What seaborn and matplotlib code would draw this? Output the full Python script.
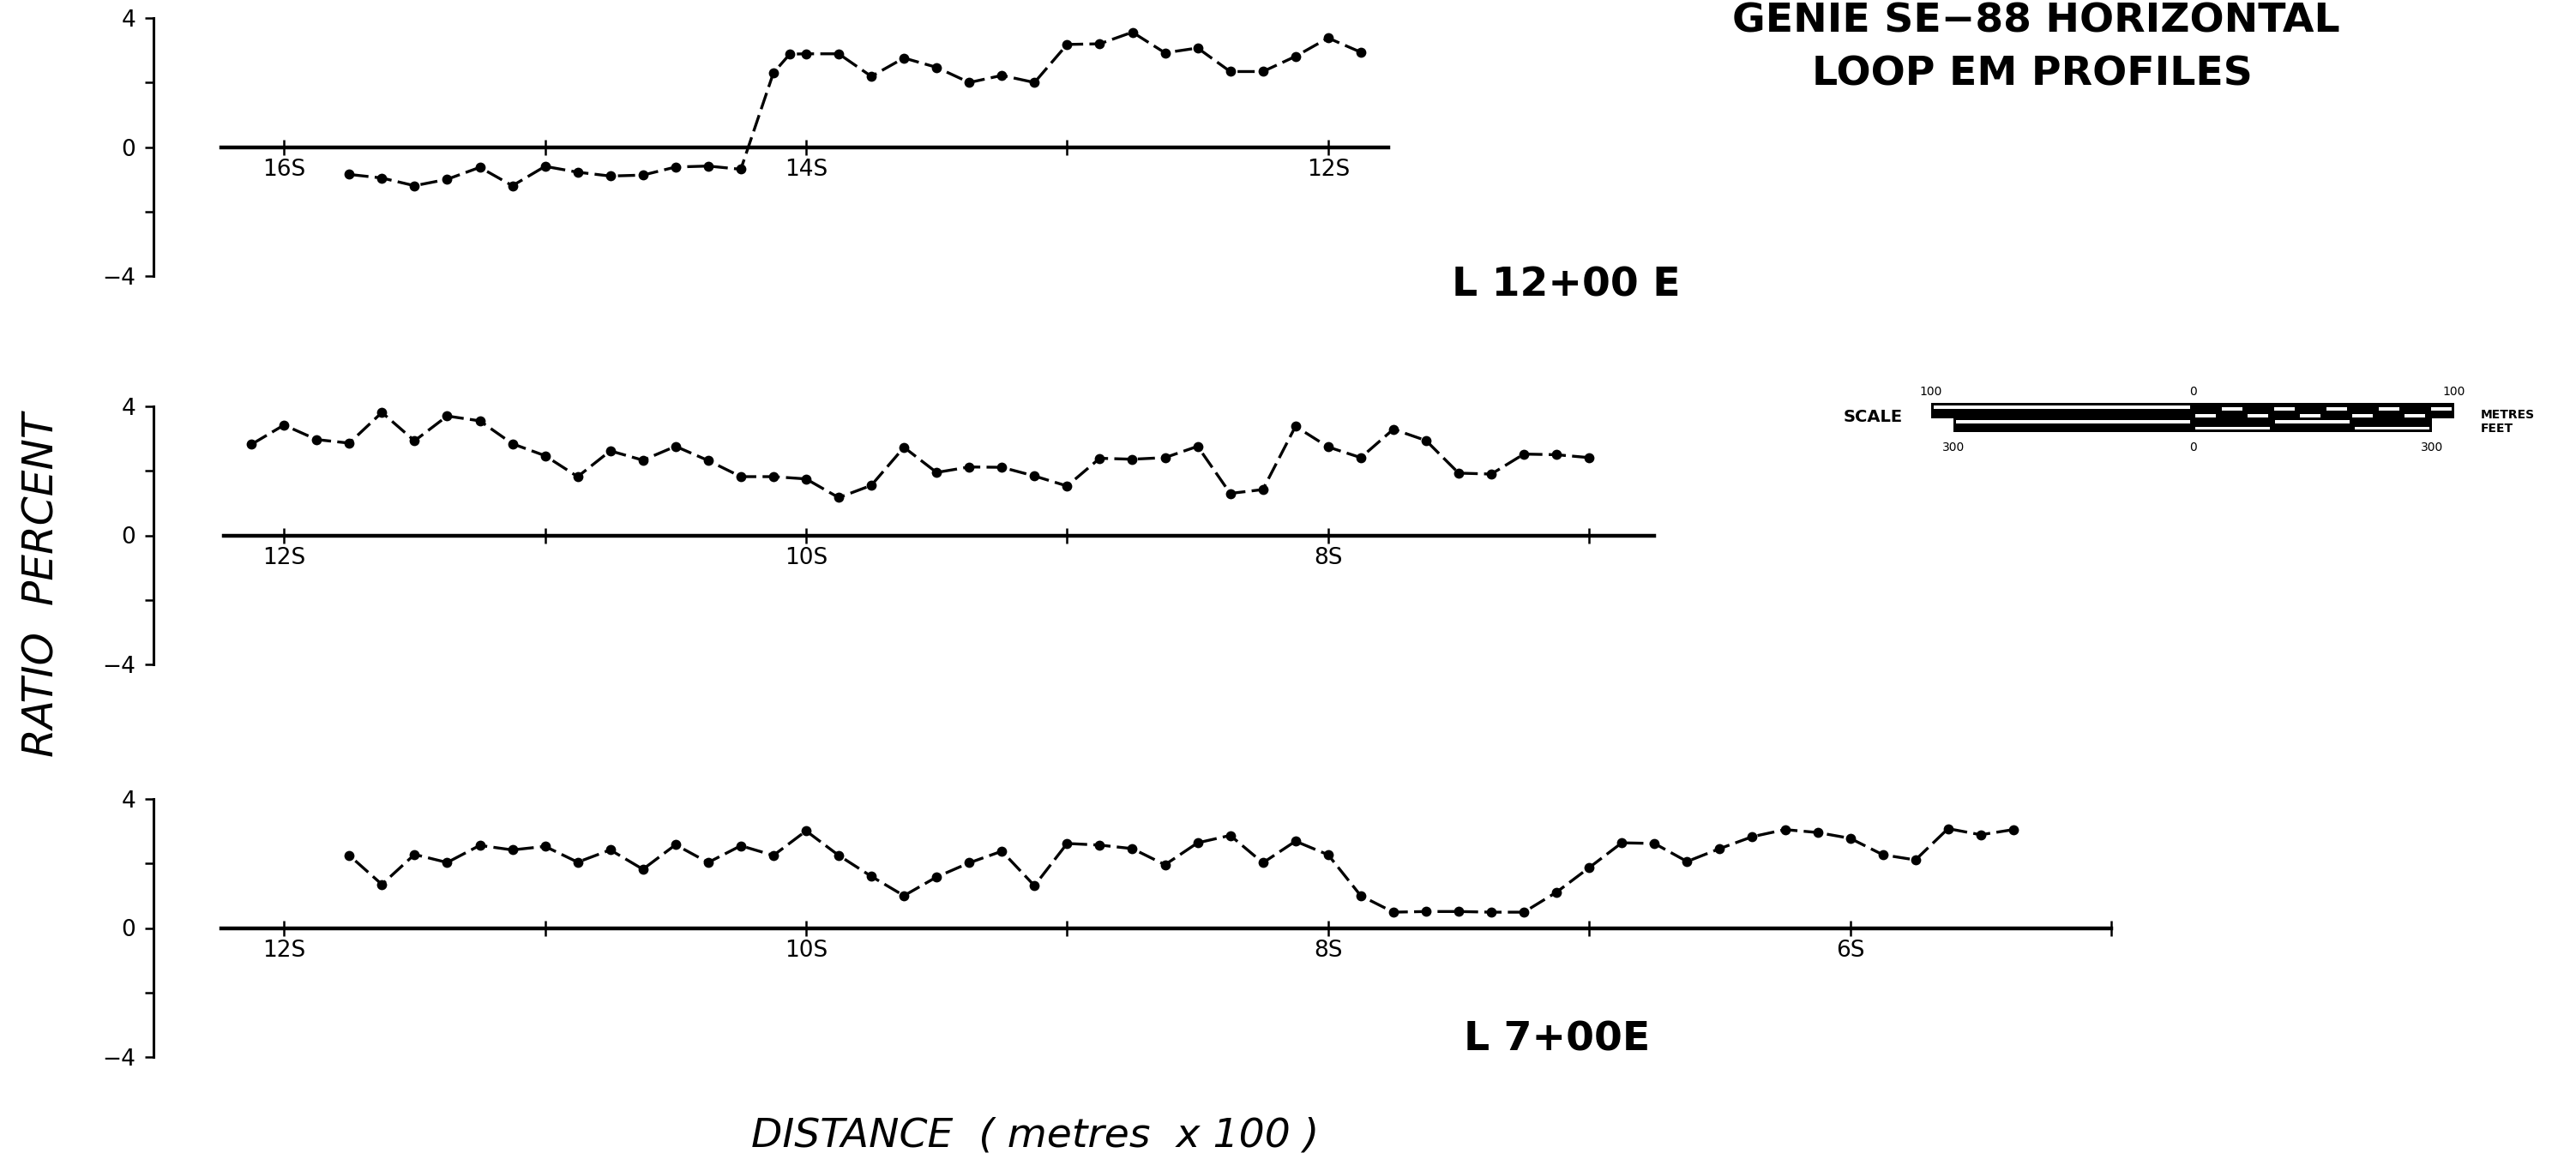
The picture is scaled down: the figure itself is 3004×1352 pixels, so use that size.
import matplotlib
matplotlib.use("Agg")
import matplotlib.pyplot as plt
import seaborn as sns
import numpy as np

# ---------------- data (station in 100 m units south, ratio in percent) ----------------
top_station = [15.75, 15.625, 15.5, 15.375, 15.25, 15.125, 15.0, 14.875, 14.75, 14.625,
               14.5, 14.375, 14.25, 14.125, 14.0625, 14.0, 13.875, 13.75, 13.625, 13.5,
               13.375, 13.25, 13.125, 13.0, 12.875, 12.75, 12.625, 12.5, 12.375, 12.25,
               12.125, 12.0, 11.875]
top_ratio = [-0.85, -0.96, -1.2, -1.0, -0.63, -1.2, -0.6, -0.78, -0.9, -0.87,
             -0.62, -0.59, -0.69, 2.3, 2.88, 2.89, 2.89, 2.19, 2.76, 2.47,
             2.0, 2.22, 2.0, 3.18, 3.2, 3.56, 2.92, 3.07, 2.34, 2.34,
             2.81, 3.38, 2.94]

mid_station = [12.125, 12.0, 11.875, 11.75, 11.625, 11.5, 11.375, 11.25, 11.125, 11.0,
               10.875, 10.75, 10.625, 10.5, 10.375, 10.25, 10.125, 10.0, 9.875, 9.75,
               9.625, 9.5, 9.375, 9.25, 9.125, 9.0, 8.875, 8.75, 8.625, 8.5,
               8.375, 8.25, 8.125, 8.0, 7.875, 7.75, 7.625, 7.5, 7.375, 7.25,
               7.125, 7.0]
mid_ratio = [2.82, 3.42, 2.97, 2.86, 3.81, 2.93, 3.70, 3.55, 2.84, 2.47,
             1.82, 2.62, 2.33, 2.76, 2.32, 1.82, 1.82, 1.75, 1.17, 1.55,
             2.73, 1.95, 2.12, 2.11, 1.84, 1.53, 2.39, 2.36, 2.41, 2.76,
             1.30, 1.42, 3.38, 2.74, 2.41, 3.29, 2.94, 1.93, 1.90, 2.52,
             2.50, 2.41]

bot_station = [11.75, 11.625, 11.5, 11.375, 11.25, 11.125, 11.0, 10.875, 10.75, 10.625,
               10.5, 10.375, 10.25, 10.125, 10.0, 9.875, 9.75, 9.625, 9.5, 9.375,
               9.25, 9.125, 9.0, 8.875, 8.75, 8.625, 8.5, 8.375, 8.25, 8.125,
               8.0, 7.875, 7.75, 7.625, 7.5, 7.375, 7.25, 7.125, 7.0, 6.875,
               6.75, 6.625, 6.5, 6.375, 6.25, 6.125, 6.0, 5.875, 5.75, 5.625,
               5.5, 5.375]
bot_ratio = [2.25, 1.35, 2.28, 2.03, 2.56, 2.42, 2.53, 2.04, 2.42, 1.82,
             2.58, 2.03, 2.55, 2.25, 3.01, 2.25, 1.6, 1.0, 1.58, 2.02,
             2.38, 1.31, 2.62, 2.57, 2.46, 1.96, 2.64, 2.87, 2.02, 2.69,
             2.27, 1.0, 0.49, 0.51, 0.51, 0.49, 0.49, 1.11, 1.87, 2.64,
             2.62, 2.06, 2.46, 2.83, 3.05, 2.96, 2.78, 2.27, 2.11, 3.08,
             2.89, 3.05]

top_ticks = [16, 15, 14, 13, 12]
top_tick_labels = ["16S", "", "14S", "", "12S"]
mid_ticks = [12, 11, 10, 9, 8, 7]
mid_tick_labels = ["12S", "", "10S", "", "8S", ""]
bot_ticks = [12, 11, 10, 9, 8, 7, 6, 5]
bot_tick_labels = ["12S", "", "10S", "", "8S", "", "6S", ""]
y_ticks = [-4, -2, 0, 2, 4]
y_tick_labels = ["\u22124", "", "0", "", "4"]

title_lines = ["GENIE SE\u221288 HORIZONTAL", "LOOP EM PROFILES"]
line_labels = ["L 12+00 E", "L 7+00E"]
y_label = "RATIO  PERCENT"
x_label = "DISTANCE  ( metres  x 100 )"

# ---------------- style ----------------
sns.set_theme(style="ticks", rc={
    "axes.edgecolor": "black", "text.color": "black", "axes.labelcolor": "black",
    "xtick.color": "black", "ytick.color": "black",
    "figure.facecolor": "white", "axes.facecolor": "none",
})
plt.rcParams["font.family"] = ["DejaVu Sans"]

W, H = 3004, 1352
fig = plt.figure(figsize=(W / 200, H / 200), dpi=200)

PX_PER_STATION = 304.4
AX_LEFT_PX, AX_RIGHT_PX = 179, 2500
span = (AX_RIGHT_PX - AX_LEFT_PX) / PX_PER_STATION
ax_h = 301 / H

panels = [
    dict(x=top_station, y=top_ratio, ticks=top_ticks, labels=top_tick_labels,
         top_px=21, first=16, base=(16.24, 11.77)),
    dict(x=mid_station, y=mid_ratio, ticks=mid_ticks, labels=mid_tick_labels,
         top_px=474, first=12, base=(12.23, 6.75)),
    dict(x=bot_station, y=bot_ratio, ticks=bot_ticks, labels=bot_tick_labels,
         top_px=932, first=12, base=(12.24, 5.0)),
]

for p in panels:
    ax = fig.add_axes([AX_LEFT_PX / W, 1 - (p["top_px"] + 301) / H,
                       (AX_RIGHT_PX - AX_LEFT_PX) / W, ax_h])
    sns.lineplot(x=p["x"], y=p["y"], ax=ax, color="black", lw=1.2,
                 linestyle=(0, (6, 2.2)), estimator=None, zorder=2)
    sns.scatterplot(x=p["x"], y=p["y"], ax=ax, color="black", s=18,
                    linewidth=0, zorder=3)
    left = p["first"] + 0.5
    ax.set_xlim(left, left - span)
    ax.set_ylim(-4, 4)
    ax.set_xlabel("")
    ax.set_ylabel("")
    for side in ("top", "right"):
        ax.spines[side].set_visible(False)
    ax.spines["bottom"].set_position(("data", 0))
    ax.spines["bottom"].set_bounds(*p["base"])
    ax.spines["bottom"].set_linewidth(1.6)
    ax.spines["left"].set_linewidth(1.1)
    ax.spines["left"].set_bounds(-4, 4)
    ax.set_xticks(p["ticks"])
    ax.set_xticklabels(p["labels"])
    ax.set_yticks(y_ticks)
    ax.set_yticklabels(y_tick_labels)
    ax.tick_params(axis="x", direction="inout", length=6.5, width=0.9,
                   pad=1.5, labelsize=9.5)
    ax.tick_params(axis="y", direction="out", length=3.5, width=0.9,
                   pad=4, labelsize=9.5)
    ax.grid(False)

# ---------------- texts ----------------
fig.text(2374 / W, 1 - 37 / H, title_lines[0], ha="center", va="baseline",
         fontsize=17, fontweight="bold")
fig.text(2370 / W, 1 - 100 / H, title_lines[1], ha="center", va="baseline",
         fontsize=17, fontweight="bold")
fig.text(1826 / W, 1 - 345 / H, line_labels[0], ha="center", va="baseline",
         fontsize=17, fontweight="bold")
fig.text(1816 / W, 1 - 1225 / H, line_labels[1], ha="center", va="baseline",
         fontsize=17, fontweight="bold")
fig.text(49 / W, 1 - 682 / H, y_label, rotation=90, ha="center", va="center",
         fontsize=17.5, fontstyle="italic")
fig.text(1207 / W, 1 - 1337 / H, x_label, ha="center", va="baseline",
         fontsize=17, fontstyle="italic")

# ---------------- graphic scale (metres / feet) ----------------
sax = fig.add_axes([2252 / W, 1 - 504 / H, (2862 - 2252) / W, 36 / H])
sax.set_xlim(-100, 100)
sax.set_ylim(0, 1)
sax.axis("off")
FT = 0.3048
# metres bar
sax.bar(-100, 0.51, width=200, bottom=0.44, align="edge", color="black", linewidth=0)
sax.bar(-99, 0.10, width=98, bottom=0.75, align="edge", color="white", linewidth=0)
for k in range(10):
    bottom = 0.48 if k % 2 == 0 else 0.70
    sax.bar(10 * k + 1, 0.10, width=8, bottom=bottom, align="edge", color="white", linewidth=0)
# feet bar
sax.bar(-300 * FT, 0.46, width=600 * FT, bottom=0.0, align="edge", color="black", linewidth=0)
sax.bar(-300 * FT + 1, 0.10, width=300 * FT - 2, bottom=0.29, align="edge", color="white", linewidth=0)
for k in range(3):
    bottom = 0.07 if k % 2 == 0 else 0.29
    sax.bar(100 * FT * k + 1, 0.10, width=100 * FT - 2, bottom=bottom, align="edge",
            color="white", linewidth=0)
for xv, txt in [(-100, "100"), (0, "0"), (100, "100")]:
    sax.text(xv, 1.1, txt, ha="center", va="bottom", fontsize=5, clip_on=False)
for xv, txt in [(-300 * FT, "300"), (0, "0"), (300 * FT, "300")]:
    sax.text(xv, -0.3, txt, ha="center", va="top", fontsize=5, clip_on=False)
sax.text(-111, 0.5, "SCALE", ha="right", va="center", fontsize=7, fontweight="bold",
         clip_on=False)
sax.text(110, 0.55, "METRES", ha="left", va="center", fontsize=5, fontweight="bold",
         clip_on=False)
sax.text(110, 0.12, "FEET", ha="left", va="center", fontsize=5, fontweight="bold",
         clip_on=False)

fig.savefig("out.png", dpi=200, facecolor="white")
